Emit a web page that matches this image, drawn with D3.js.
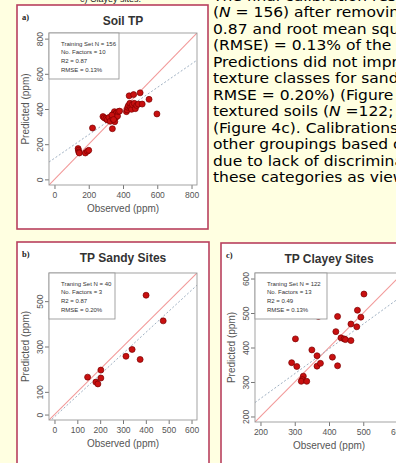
<!DOCTYPE html>
<html>
<head>
<meta charset="utf-8">
<script src="https://cdn.jsdelivr.net/npm/d3@7"></script>
<style>
  html, body { margin: 0; padding: 0; background: #ffffe1; overflow: hidden; }
</style>
</head>
<body>
<div id="chart"></div>
<script>
// ---- values ----
// a) Soil TP
const soilObs  = [138, 140, 142, 145, 180, 192, 200, 222, 283, 290, 300, 308, 318, 325, 338, 340, 342, 348, 350, 355, 358, 362, 368, 372, 380, 335, 352, 345, 420, 424, 428, 432, 436, 440, 445, 450, 455, 462, 466, 472, 480, 490, 500, 512, 552, 598];
const soilPred = [175, 165, 155, 150, 150, 160, 165, 292, 357, 350, 345, 338, 352, 330, 288, 345, 370, 362, 385, 372, 352, 378, 360, 385, 388, 365, 328, 340, 385, 395, 410, 420, 475, 432, 408, 398, 425, 482, 432, 402, 420, 428, 492, 428, 455, 372];
// b) TP Sandy Sites
const sandyObs  = [401, 476, 340, 313, 375, 203, 145, 203, 181, 190];
const sandyPred = [526, 413, 287, 257, 243, 196, 165, 161, 143, 135];
// c) TP Clayey Sites
const clayObs  = [502, 369, 425, 483, 493, 464, 481, 420, 435, 444, 448, 464, 302, 350, 365, 410, 291, 306, 365, 375, 425, 325, 322, 319, 335];
const clayPred = [555, 490, 490, 508, 488, 468, 460, 446, 428, 425, 423, 420, 425, 393, 376, 372, 356, 345, 346, 354, 347, 317, 307, 302, 302];

// fitted (dotted) lines: [intercept, slope]
const soilFit  = [120, 0.67];
const sandyFit = [-10, 0.93];
const clayFit  = [108, 0.72];

// axis ticks
const soilTicks   = [0, 200, 400, 600, 800];
const sandyXTicks = [0, 100, 200, 300, 400, 500, 600];
const sandyYTicks = [0, 100, 300, 500];
const clayTicks   = [200, 300, 400, 500, 600];

// legend texts
const soilLegend  = ['Training Set N = 156', 'No. Factors = 10', 'R2 = 0.87', 'RMSE = 0.13%'];
const sandyLegend = ['Traning Set N = 40', 'No. Factors = 3', 'R2 = 0.87', 'RMSE = 0.20%'];
const clayLegend  = ['Traning Set N = 122', 'No. Factors = 13', 'R2 = 0.49', 'RMSE = 0.13%'];

// body text column on the right
const bodyLines = [
  'The final calibration results',
  '(N = 156) after removing',
  '0.87 and root mean square',
  '(RMSE) = 0.13% of the',
  'Predictions did not improve',
  'texture classes for sandy',
  'RMSE = 0.20%) (Figure 4b)',
  'textured soils (N =122;',
  '(Figure 4c). Calibrations',
  'other groupings based on',
  'due to lack of discrimination',
  'these categories as viewed'
];

const W = 396, H = 463;
const svg = d3.select('#chart').append('svg').attr('width', W).attr('height', H);
svg.append('rect').attr('width', W).attr('height', H).attr('fill', '#ffffe1');

// caption line cut at the very top
svg.append('text')
    .attr('x', 80).attr('y', 2)
    .style('font-family', 'Liberation Sans, Arial, sans-serif')
    .style('font-size', '9px')
    .attr('fill', '#222')
    .text('c) Clayey sites.');

// body text (the screenshot is a bit stretched sideways)
const body = svg.append('g')
    .attr('transform', 'translate(213,0) scale(1.15,1)')
    .style('font-family', 'DejaVu Sans, Verdana, sans-serif')
    .style('font-size', '13.5px')
    .attr('fill', '#000');
body.selectAll('text')
    .data(bodyLines)
    .enter().append('text')
    .attr('x', 0)
    .attr('y', (d, i) => 0.8 + i * 16.5)
    .each(function(d) {
      // italic N in "(N = ...)"
      const t = d3.select(this);
      const m = d.match(/^(.*\()N( =.*)$/);
      if (m) {
        t.append('tspan').text(m[1]);
        t.append('tspan').style('font-style', 'italic').text('N');
        t.append('tspan').text(m[2]);
      } else {
        t.text(d);
      }
    });

function drawPanel(cfg) {
  const g = svg.append('g');
  // white box with rose border
  g.append('rect')
      .attr('x', cfg.box[0]).attr('y', cfg.box[1])
      .attr('width', cfg.box[2]).attr('height', cfg.box[3])
      .attr('fill', '#fff')
      .attr('stroke', '#b8405e')
      .attr('stroke-width', 1.6);

  const px = cfg.plot[0], py = cfg.plot[1], pw = cfg.plot[2], ph = cfg.plot[3];
  const x = d3.scaleLinear().domain(cfg.domain).range([px, px + pw]);
  const y = d3.scaleLinear().domain(cfg.domain).range([py + ph, py]);

  const clipId = 'clip-' + cfg.tag.replace(')', '');
  g.append('clipPath').attr('id', clipId)
      .append('rect').attr('x', px).attr('y', py).attr('width', pw).attr('height', ph);

  // tag a) b) c)
  g.append('text')
      .attr('x', cfg.box[0] + 5).attr('y', cfg.box[1] + 15)
      .style('font-family', 'Liberation Serif, Times New Roman, serif')
      .style('font-size', '8.5px').style('font-weight', 'bold')
      .attr('fill', '#222')
      .text(cfg.tag);

  // title
  g.append('text')
      .attr('x', px + pw / 2).attr('y', cfg.box[1] + 20)
      .attr('text-anchor', 'middle')
      .style('font-family', 'Liberation Sans, Arial, sans-serif')
      .style('font-size', '12px').style('font-weight', 'bold')
      .attr('fill', '#333')
      .text(cfg.title);

  // axes
  const ax = g.append('g')
      .attr('transform', 'translate(0,' + (py + ph) + ')')
      .call(d3.axisBottom(x).tickValues(cfg.xTicks).tickSize(4).tickPadding(3).tickFormat(d3.format('d')));
  const ay = g.append('g')
      .attr('transform', 'translate(' + px + ',0)')
      .call(d3.axisLeft(y).tickValues(cfg.yTicks).tickSize(4).tickFormat(d3.format('d')));
  [ax, ay].forEach(a => {
    a.select('.domain').remove();
    a.selectAll('line').attr('stroke', '#777');
    a.selectAll('text')
        .style('font-family', 'Liberation Sans, Arial, sans-serif')
        .style('font-size', '8.5px')
        .attr('fill', '#555');
  });
  ay.selectAll('text')
      .attr('transform', 'rotate(-90)')
      .attr('x', 0).attr('y', -6).attr('dy', 0)
      .style('text-anchor', 'middle');

  // axis titles
  g.append('text')
      .attr('x', px + pw / 2).attr('y', py + ph + 27)
      .attr('text-anchor', 'middle')
      .style('font-family', 'Liberation Sans, Arial, sans-serif')
      .style('font-size', '10px')
      .attr('fill', '#555')
      .text('Observed (ppm)');
  g.append('text')
      .attr('transform', 'translate(' + (px - 20) + ',' + (py + ph / 2) + ') rotate(-90)')
      .attr('text-anchor', 'middle')
      .style('font-family', 'Liberation Sans, Arial, sans-serif')
      .style('font-size', '10px')
      .attr('fill', '#555')
      .text('Predicted (ppm)');

  // lines
  const lines = g.append('g').attr('clip-path', 'url(#' + clipId + ')');
  const d0 = cfg.domain[0], d1 = cfg.domain[1];
  lines.append('line')
      .attr('x1', x(d0)).attr('y1', y(d0)).attr('x2', x(d1)).attr('y2', y(d1))
      .attr('stroke', '#f29a9a').attr('stroke-width', 1.1);
  lines.append('line')
      .attr('x1', x(d0)).attr('y1', y(cfg.fit[0] + cfg.fit[1] * d0))
      .attr('x2', x(d1)).attr('y2', y(cfg.fit[0] + cfg.fit[1] * d1))
      .attr('stroke', '#9fb0c2').attr('stroke-width', 1)
      .attr('stroke-dasharray', '2,2');

  // frame
  g.append('rect')
      .attr('x', px).attr('y', py).attr('width', pw).attr('height', ph)
      .attr('fill', 'none').attr('stroke', '#999').attr('stroke-width', 0.9);

  // points
  const pts = cfg.obs.map((o, i) => [o, cfg.pred[i]]);
  lines.selectAll('circle')
      .data(pts)
      .enter().append('circle')
      .attr('cx', d => x(d[0])).attr('cy', d => y(d[1]))
      .attr('r', 3)
      .attr('fill', '#c81010')
      .attr('stroke', '#7a0000').attr('stroke-width', 0.7);

  // legend (top-left)
  const lg = g.append('g');
  lg.append('rect')
      .attr('x', px).attr('y', py).attr('width', cfg.legendW).attr('height', 46)
      .attr('fill', '#fff').attr('stroke', '#999').attr('stroke-width', 0.9);
  lg.selectAll('text')
      .data(cfg.legend)
      .enter().append('text')
      .attr('x', px + 12)
      .attr('y', (d, i) => py + 12.5 + i * 8.8)
      .style('font-family', 'Liberation Sans, Arial, sans-serif')
      .style('font-size', '6px')
      .attr('fill', '#333')
      .text(d => d);
}

drawPanel({
  tag: 'a)', title: 'Soil TP',
  box: [17, 5, 191, 224], plot: [49, 33, 148, 152],
  domain: [-32, 832], xTicks: soilTicks, yTicks: soilTicks,
  obs: soilObs, pred: soilPred, fit: soilFit,
  legend: soilLegend, legendW: 70
});
drawPanel({
  tag: 'b)', title: 'TP Sandy Sites',
  box: [17, 242, 192, 240], plot: [49, 273, 148, 147],
  domain: [-24, 624], xTicks: sandyXTicks, yTicks: sandyYTicks,
  obs: sandyObs, pred: sandyPred, fit: sandyFit,
  legend: sandyLegend, legendW: 66
});
drawPanel({
  tag: 'c)', title: 'TP Clayey Sites',
  box: [221, 243, 200, 240], plot: [255, 273, 148, 149],
  domain: [184, 616], xTicks: clayTicks, yTicks: clayTicks,
  obs: clayObs, pred: clayPred, fit: clayFit,
  legend: clayLegend, legendW: 72
});
</script>
</body>
</html>
